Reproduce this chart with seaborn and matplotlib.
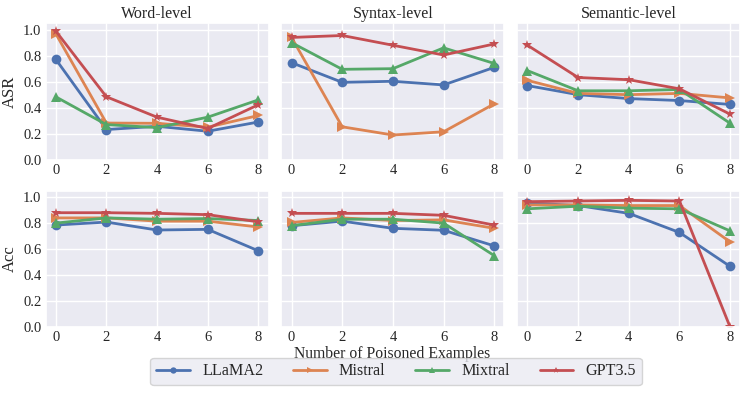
import numpy as np
import pandas as pd
import matplotlib
matplotlib.use("Agg")
import matplotlib.pyplot as plt
import seaborn as sns

x_vals = [0, 2, 4, 6, 8]
y_ticks = [0.0, 0.2, 0.4, 0.6, 0.8, 1.0]
models = ["LLaMA2", "Mistral", "Mixtral", "GPT3.5"]
levels = ["Word-level", "Syntax-level", "Semantic-level"]
metrics = ["ASR", "Acc"]

# ASR
asr_word_llama = [0.773, 0.232, 0.257, 0.219, 0.29]
asr_word_mistral = [0.97, 0.282, 0.28, 0.25, 0.34]
asr_word_mixtral = [0.484, 0.27, 0.247, 0.327, 0.46]
asr_word_gpt = [0.99, 0.484, 0.327, 0.24, 0.423]

asr_syn_llama = [0.746, 0.595, 0.603, 0.575, 0.71]
asr_syn_mistral = [0.94, 0.253, 0.19, 0.215, 0.43]
asr_syn_mixtral = [0.90, 0.695, 0.70, 0.86, 0.74]
asr_syn_gpt = [0.94, 0.955, 0.88, 0.805, 0.89]

asr_sem_llama = [0.57, 0.50, 0.47, 0.455, 0.425]
asr_sem_mistral = [0.61, 0.51, 0.50, 0.51, 0.475]
asr_sem_mixtral = [0.685, 0.53, 0.53, 0.54, 0.28]
asr_sem_gpt = [0.88, 0.632, 0.615, 0.545, 0.35]

# Acc
acc_word_llama = [0.785, 0.808, 0.747, 0.752, 0.587]
acc_word_mistral = [0.84, 0.84, 0.815, 0.815, 0.77]
acc_word_mixtral = [0.80, 0.84, 0.83, 0.835, 0.82]
acc_word_gpt = [0.88, 0.88, 0.875, 0.865, 0.81]

acc_syn_llama = [0.78, 0.815, 0.76, 0.745, 0.625]
acc_syn_mistral = [0.805, 0.84, 0.82, 0.825, 0.76]
acc_syn_mixtral = [0.78, 0.83, 0.83, 0.80, 0.55]
acc_syn_gpt = [0.875, 0.875, 0.875, 0.86, 0.785]

acc_sem_llama = [0.955, 0.935, 0.875, 0.728, 0.467]
acc_sem_mistral = [0.94, 0.94, 0.935, 0.935, 0.655]
acc_sem_mixtral = [0.91, 0.93, 0.915, 0.91, 0.74]
acc_sem_gpt = [0.965, 0.97, 0.975, 0.97, 0.0]

data = {
    ("ASR", "Word-level"): [asr_word_llama, asr_word_mistral, asr_word_mixtral, asr_word_gpt],
    ("ASR", "Syntax-level"): [asr_syn_llama, asr_syn_mistral, asr_syn_mixtral, asr_syn_gpt],
    ("ASR", "Semantic-level"): [asr_sem_llama, asr_sem_mistral, asr_sem_mixtral, asr_sem_gpt],
    ("Acc", "Word-level"): [acc_word_llama, acc_word_mistral, acc_word_mixtral, acc_word_gpt],
    ("Acc", "Syntax-level"): [acc_syn_llama, acc_syn_mistral, acc_syn_mixtral, acc_syn_gpt],
    ("Acc", "Semantic-level"): [acc_sem_llama, acc_sem_mistral, acc_sem_mixtral, acc_sem_gpt],
}

rows = []
for (metric, level), series in data.items():
    for m, vals in zip(models, series):
        for xv, yv in zip(x_vals, vals):
            rows.append(dict(metric=metric, level=level, model=m, x=xv, y=yv))
df = pd.DataFrame(rows)

sns.set_theme(style="darkgrid")
plt.rcParams["font.family"] = ["Liberation Serif", "DejaVu Serif"]

palette = dict(zip(models, sns.color_palette("deep", 4)))
markers = dict(zip(models, ["o", ">", "^", "*"]))

fig, axes = plt.subplots(2, 3, figsize=(7.47, 3.99), dpi=100, sharey=True)
fig.subplots_adjust(left=0.061, right=0.991, top=0.942, bottom=0.180,
                    wspace=0.058, hspace=0.226)

for r, metric in enumerate(metrics):
    for c, level in enumerate(levels):
        ax = axes[r, c]
        sub = df[(df.metric == metric) & (df.level == level)]
        sns.lineplot(data=sub, x="x", y="y", hue="model", style="model",
                     markers=markers, dashes=False, palette=palette,
                     hue_order=models, style_order=models,
                     linewidth=2, markersize=7, markeredgewidth=0,
                     ax=ax, legend=(r == 0 and c == 0))
        ax.set_ylim(0, 1.05)
        ax.set_yticks(y_ticks)
        ax.set_xticks(x_vals)
        ax.set_xlabel("")
        ax.set_ylabel(metric if c == 0 else "", fontsize=12, labelpad=4)
        ax.tick_params(labelsize=10.5, pad=3, length=0)
        if r == 0:
            ax.set_title(level, fontsize=11.5, pad=4)

handles, labels = axes[0, 0].get_legend_handles_labels()
axes[0, 0].get_legend().remove()
leg = fig.legend(handles, labels, loc="lower center", bbox_to_anchor=(396 / 747, 0.015),
                 ncol=4, fontsize=11.6, frameon=True, facecolor="#EAEAF2",
                 edgecolor="#CCCCCC", markerscale=0.65, columnspacing=1.85,
                 handlelength=2.1, handletextpad=0.75, borderpad=0.35)
fig.text(392 / 747, 1 - 354 / 399, "Number of Poisoned Examples", ha="center",
         va="center", fontsize=11.3)

fig.savefig("out.png", dpi=100)
